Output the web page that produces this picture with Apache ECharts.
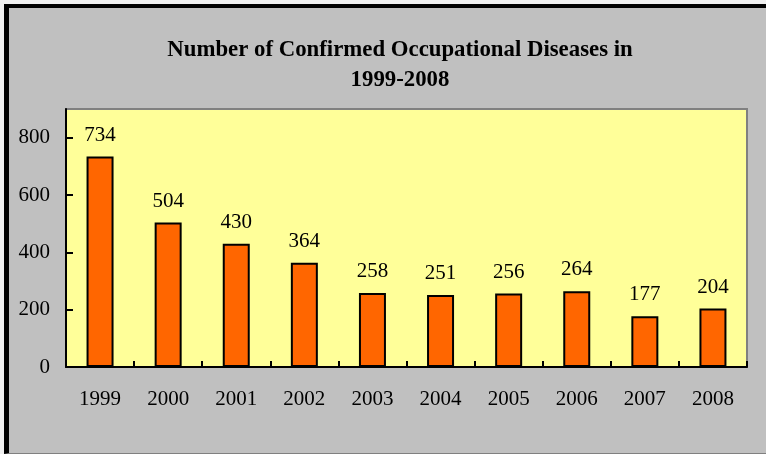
<!DOCTYPE html>
<html>
<head>
<meta charset="utf-8">
<script src="https://cdn.jsdelivr.net/npm/echarts@6/dist/echarts.min.js"></script>
<style>
html,body{margin:0;padding:0;background:#f0f0f0;width:766px;height:454px;overflow:hidden;}
#bg{position:absolute;left:4px;top:4px;width:757px;height:445px;background:#C0C0C0;border-left:5px solid #000;border-top:4px solid #000;border-bottom:1px solid #808080;}
#main{position:absolute;left:0;top:0;width:766px;height:454px;}
</style>
</head>
<body>
<div id="bg"></div>
<div id="main"></div>
<script>
var categories = ['1999','2000','2001','2002','2003','2004','2005','2006','2007','2008'];
var values = [734, 504, 430, 364, 258, 251, 256, 264, 177, 204];
var yTicks = [0, 200, 400, 600, 800];
var titleText = 'Number of Confirmed Occupational Diseases in\n1999-2008';

var chart = echarts.init(document.getElementById('main'), null, {renderer:'canvas'});
var serif = '"Liberation Serif","Times New Roman",serif';
chart.setOption({
  backgroundColor: 'transparent',
  animation: false,
  title: {
    text: titleText,
    left: 395, top: 30,
    textAlign: 'center',
    textStyle: {fontFamily: serif, fontWeight: 'bold', fontSize: 22.8, color: '#000', lineHeight: 30}
  },
  grid: {
    left: 66, top: 109, right: 19, bottom: 87,
    show: true, backgroundColor: '#FFFF99', borderColor: '#808080', borderWidth: 2
  },
  xAxis: {
    type: 'category',
    data: categories,
    axisLine: {show: true, lineStyle: {color: '#000', width: 2}},
    axisTick: {show: true, inside: true, length: 6, alignWithLabel: false, lineStyle: {color: '#000', width: 2}},
    axisLabel: {fontFamily: serif, fontSize: 21, color: '#000', margin: 22}
  },
  yAxis: {
    type: 'value',
    min: 0, max: 900, interval: 100,
    splitLine: {show: false},
    axisLine: {show: true, lineStyle: {color: '#000', width: 2}},
    axisTick: {show: true, inside: true, length: 7, customValues: yTicks, lineStyle: {color: '#000', width: 2}},
    axisLabel: {fontFamily: serif, fontSize: 21, color: '#000', margin: 16, customValues: yTicks}
  },
  series: [{
    type: 'bar',
    data: values,
    barWidth: 27,
    itemStyle: {color: '#FF6600', borderColor: '#000', borderWidth: 2},
    label: {show: true, position: 'top', distance: 11, fontFamily: serif, fontSize: 21, color: '#000'}
  }]
});
</script>
</body>
</html>
